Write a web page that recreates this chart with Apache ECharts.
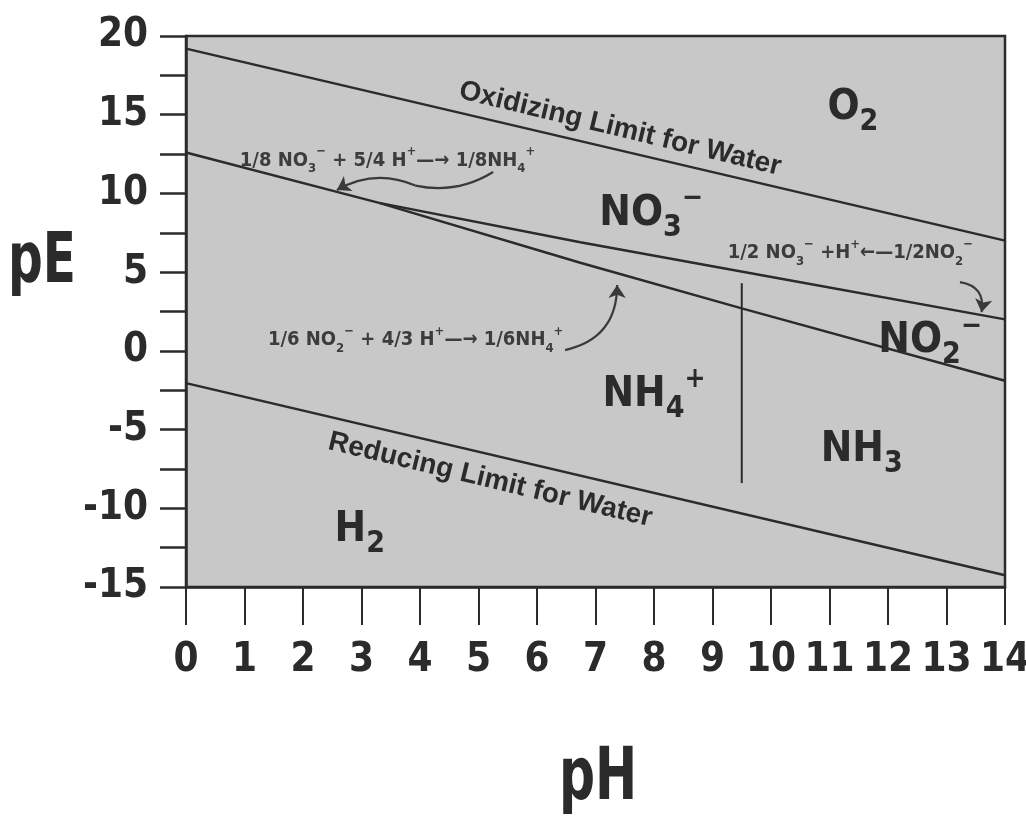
<!DOCTYPE html>
<html><head><meta charset="utf-8">
<script src="https://cdn.jsdelivr.net/npm/echarts@6/dist/echarts.min.js"></script>
<style>html,body{margin:0;padding:0;background:#fff}#c{width:1026px;height:818px}</style>
</head><body><div id="c"></div>
<script>
// ---- data (pH, pE) ----
const xMin = 0, xMax = 14, xInterval = 1;
const yMin = -15, yMax = 20, yInterval = 5;
const oxidizingLine = [[0, 19.2], [14, 7.0]];
const reducingLine = [[0, -2.05], [14, -14.25]];
const no3nh4Line = [[0, 12.6], [3.3, 9.4]];
const no3no2Line = [[3.3, 9.4], [6.74, 6.9], [10.15, 4.6], [14, 2.0]];
const no2nh4Line = [[3.3, 9.4], [6.74, 5.6], [9.5, 2.7], [14, -1.9]];
const nh4nh3Line = [[9.5, 4.3], [9.5, -8.4]];

// species region labels
const speciesText = ['{m|O}{s|2}', '{m|NO}{s|3}{p|−}', '{m|NO}{s|2}{p|−}', '{m|NH}{s|4}{p|+}', '{m|NH}{s|3}', '{m|H}{s|2}'];
const speciesPH = [11.4, 7.95, 12.72, 8.0, 11.55, 2.97];
const speciesPE = [15.4, 8.7, 0.6, -2.8, -6.3, -11.4];

// reaction annotations
const reactionText = [
  '{r|1/8 NO}{rs|3}{rp|−}{r| + 5/4 H}{rp|+}{r|—→ 1/8NH}{rs|4}{rp|+}',
  '{r|1/6 NO}{rs|2}{rp|−}{r| + 4/3 H}{rp|+}{r|—→ 1/6NH}{rs|4}{rp|+}',
  '{r|1/2 NO}{rs|3}{rp|−}{r| +H}{rp|+}{r|←—1/2NO}{rs|2}{rp|−}'
];
const reactionPH = [0.92, 1.4, 9.26];
const reactionPE = [12.1, 0.7, 6.2];

// limit line captions
const limitText = ['Oxidizing Limit for Water', 'Reducing Limit for Water'];
const limitPH = [7.42, 5.2];
const limitPE = [14.1, -8.2];

// annotation arrows [from, to]
const arrow1a = [[5.25, 11.36], [3.92, 10.5]];
const arrow1b = [[3.92, 10.5], [2.58, 10.22]];
const arrow2 = [[6.48, 0.05], [7.37, 4.18]];
const arrow3 = [[13.23, 4.37], [13.6, 2.46]];

const FONT = '"Liberation Sans Narrow", "DejaVu Sans Condensed", "Liberation Sans", sans-serif';
const dark = '#2b2b2b';

function lineSeries(data) {
  return { type: 'line', data: data, symbol: 'none', silent: true,
    lineStyle: { color: dark, width: 2.5 }, z: 3 };
}
function arrowSeries(coords, curv, withArrow) {
  return { type: 'lines', coordinateSystem: 'cartesian2d', silent: true, z: 4,
    symbol: withArrow ? ['none', 'arrow'] : ['none', 'none'], symbolSize: 13,
    lineStyle: { color: '#3a3a3a', width: 2.2, curveness: curv, opacity: 1 },
    data: [{ coords: coords }] };
}

const speciesRich = {
  m: { fontSize: 42, fontWeight: 'bold', fontFamily: FONT, color: dark, lineHeight: 58, verticalAlign: 'middle' },
  s: { fontSize: 30, fontWeight: 'bold', fontFamily: FONT, color: dark, lineHeight: 30, verticalAlign: 'bottom' },
  p: { fontSize: 28, fontWeight: 'bold', fontFamily: FONT, color: dark, lineHeight: 28, verticalAlign: 'top' }
};
const reactRich = {
  r: { fontSize: 20, fontWeight: 'bold', fontFamily: FONT, color: '#3c3c3c', lineHeight: 30, verticalAlign: 'middle' },
  rs: { fontSize: 13, fontWeight: 'bold', fontFamily: FONT, color: '#3c3c3c', lineHeight: 13, verticalAlign: 'bottom' },
  rp: { fontSize: 13, fontWeight: 'bold', fontFamily: FONT, color: '#3c3c3c', lineHeight: 13, verticalAlign: 'top' }
};
const labelBase = { show: true, position: 'inside', opacity: 1, textBorderWidth: 0 };

const chart = echarts.init(document.getElementById('c'), null, { renderer: 'canvas' });
chart.setOption({
  backgroundColor: '#ffffff',
  animation: false,
  grid: { left: 186, right: 21, top: 36, bottom: 231, show: true, outerBoundsMode: 'none', containLabel: false,
    backgroundColor: '#c8c8c8', borderColor: dark, borderWidth: 2.5 },
  xAxis: {
    type: 'value', min: xMin, max: xMax, interval: xInterval,
    axisLine: { show: true, onZero: false, lineStyle: { color: dark, width: 2.5 } },
    axisTick: { show: true, inside: false, length: 38, lineStyle: { color: dark, width: 2 } },
    splitLine: { show: false },
    axisLabel: { margin: 54, fontSize: 40, fontWeight: 'bold', fontFamily: FONT, color: dark, hideOverlap: false }
  },
  yAxis: {
    type: 'value', min: yMin, max: yMax, interval: yInterval,
    axisLine: { show: true, onZero: false, lineStyle: { color: dark, width: 2.5 } },
    axisTick: { show: true, inside: false, length: 26, lineStyle: { color: dark, width: 2.5 } },
    minorTick: { show: true, splitNumber: 2, length: 26, lineStyle: { color: dark, width: 2.5 } },
    splitLine: { show: false },
    axisLabel: { margin: 38, fontSize: 40, fontWeight: 'bold', fontFamily: FONT, color: dark }
  },
  graphic: [
    { type: 'text', x: 42, y: 264, scaleY: 1.3,
      style: { text: 'pE', font: 'bold 54px ' + FONT, fill: dark, textAlign: 'center', textVerticalAlign: 'middle' } },
    { type: 'text', x: 598, y: 780, scaleY: 1.3,
      style: { text: 'pH', font: 'bold 56px ' + FONT, fill: dark, textAlign: 'center', textVerticalAlign: 'middle' } }
  ],
  series: [
    lineSeries(oxidizingLine),
    lineSeries(reducingLine),
    lineSeries(no3nh4Line),
    lineSeries(no3no2Line),
    lineSeries(no2nh4Line),
    { type: 'line', data: nh4nh3Line, symbol: 'none', silent: true, lineStyle: { color: dark, width: 2 }, z: 3 },
    arrowSeries(arrow1a, 0.2, false),
    arrowSeries(arrow1b, -0.25, true),
    arrowSeries(arrow2, -0.4, true),
    arrowSeries(arrow3, 0.5, true),
    { type: 'scatter', symbolSize: 0, silent: true, z: 5, itemStyle: { opacity: 1 },
      data: speciesPH.map((x, i) => ({ value: [x, speciesPE[i]],
        label: Object.assign({}, labelBase, { formatter: speciesText[i], rich: speciesRich }) })) },
    { type: 'scatter', symbolSize: 0, silent: true, z: 5, itemStyle: { opacity: 1 },
      data: reactionPH.map((x, i) => ({ value: [x, reactionPE[i]],
        label: Object.assign({}, labelBase, { align: 'left', formatter: reactionText[i], rich: reactRich }) })) },
    { type: 'scatter', symbolSize: 0, silent: true, z: 5, itemStyle: { opacity: 1 },
      data: limitPH.map((x, i) => ({ value: [x, limitPE[i]],
        label: Object.assign({}, labelBase, { rotate: -13.5, formatter: limitText[i],
          fontSize: 28, fontWeight: 'bold', fontFamily: '"Liberation Sans", sans-serif', color: dark }) })) }
  ]
});
</script>
</body></html>
